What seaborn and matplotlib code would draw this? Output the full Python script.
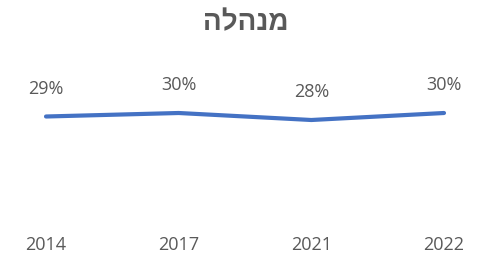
import matplotlib
matplotlib.use("Agg")
import matplotlib.pyplot as plt
import seaborn as sns
import pandas as pd

title = "מנהלה"
years = ["2014", "2017", "2021", "2022"]
values = [0.29, 0.30, 0.28, 0.30]
labels = ["29%", "30%", "28%", "30%"]

sns.set_theme(style="white")
plt.rcParams['font.family'] = ['Open Sans', 'Liberation Sans', 'DejaVu Sans']

df = pd.DataFrame({"year": years, "value": values})
df["x"] = range(len(years))

fig = plt.figure(figsize=(4.79, 2.6), dpi=100)
ax = fig.add_axes([46/479, 1 - 218/260, 398/479, (218 - 95.5)/260])
sns.lineplot(data=df, x="x", y="value", ax=ax, color="#4472C4", linewidth=3.0,
             solid_capstyle="round", clip_on=False)
ax.set_xlim(0, 3)
ax.set_ylim(0, 0.35)
for i, (v, lab) in enumerate(zip(values, labels)):
    ax.annotate(lab, (i, v), xytext=(0, 20), textcoords="offset points",
                ha="center", va="center", fontsize=13, color="#595959")
ax.set_xticks(df["x"])
ax.set_xticklabels(years, fontsize=13, color="#595959")
ax.tick_params(axis="x", length=0, pad=13)
ax.set_yticks([])
ax.set_xlabel("")
ax.set_ylabel("")
for s in ax.spines.values():
    s.set_visible(False)
fig.text(246/479, 1 - 23/260, title[::-1], ha="center", va="center",
         fontsize=20, fontweight="bold", color="#595959")
fig.savefig("out.png", dpi=100, facecolor="white")
